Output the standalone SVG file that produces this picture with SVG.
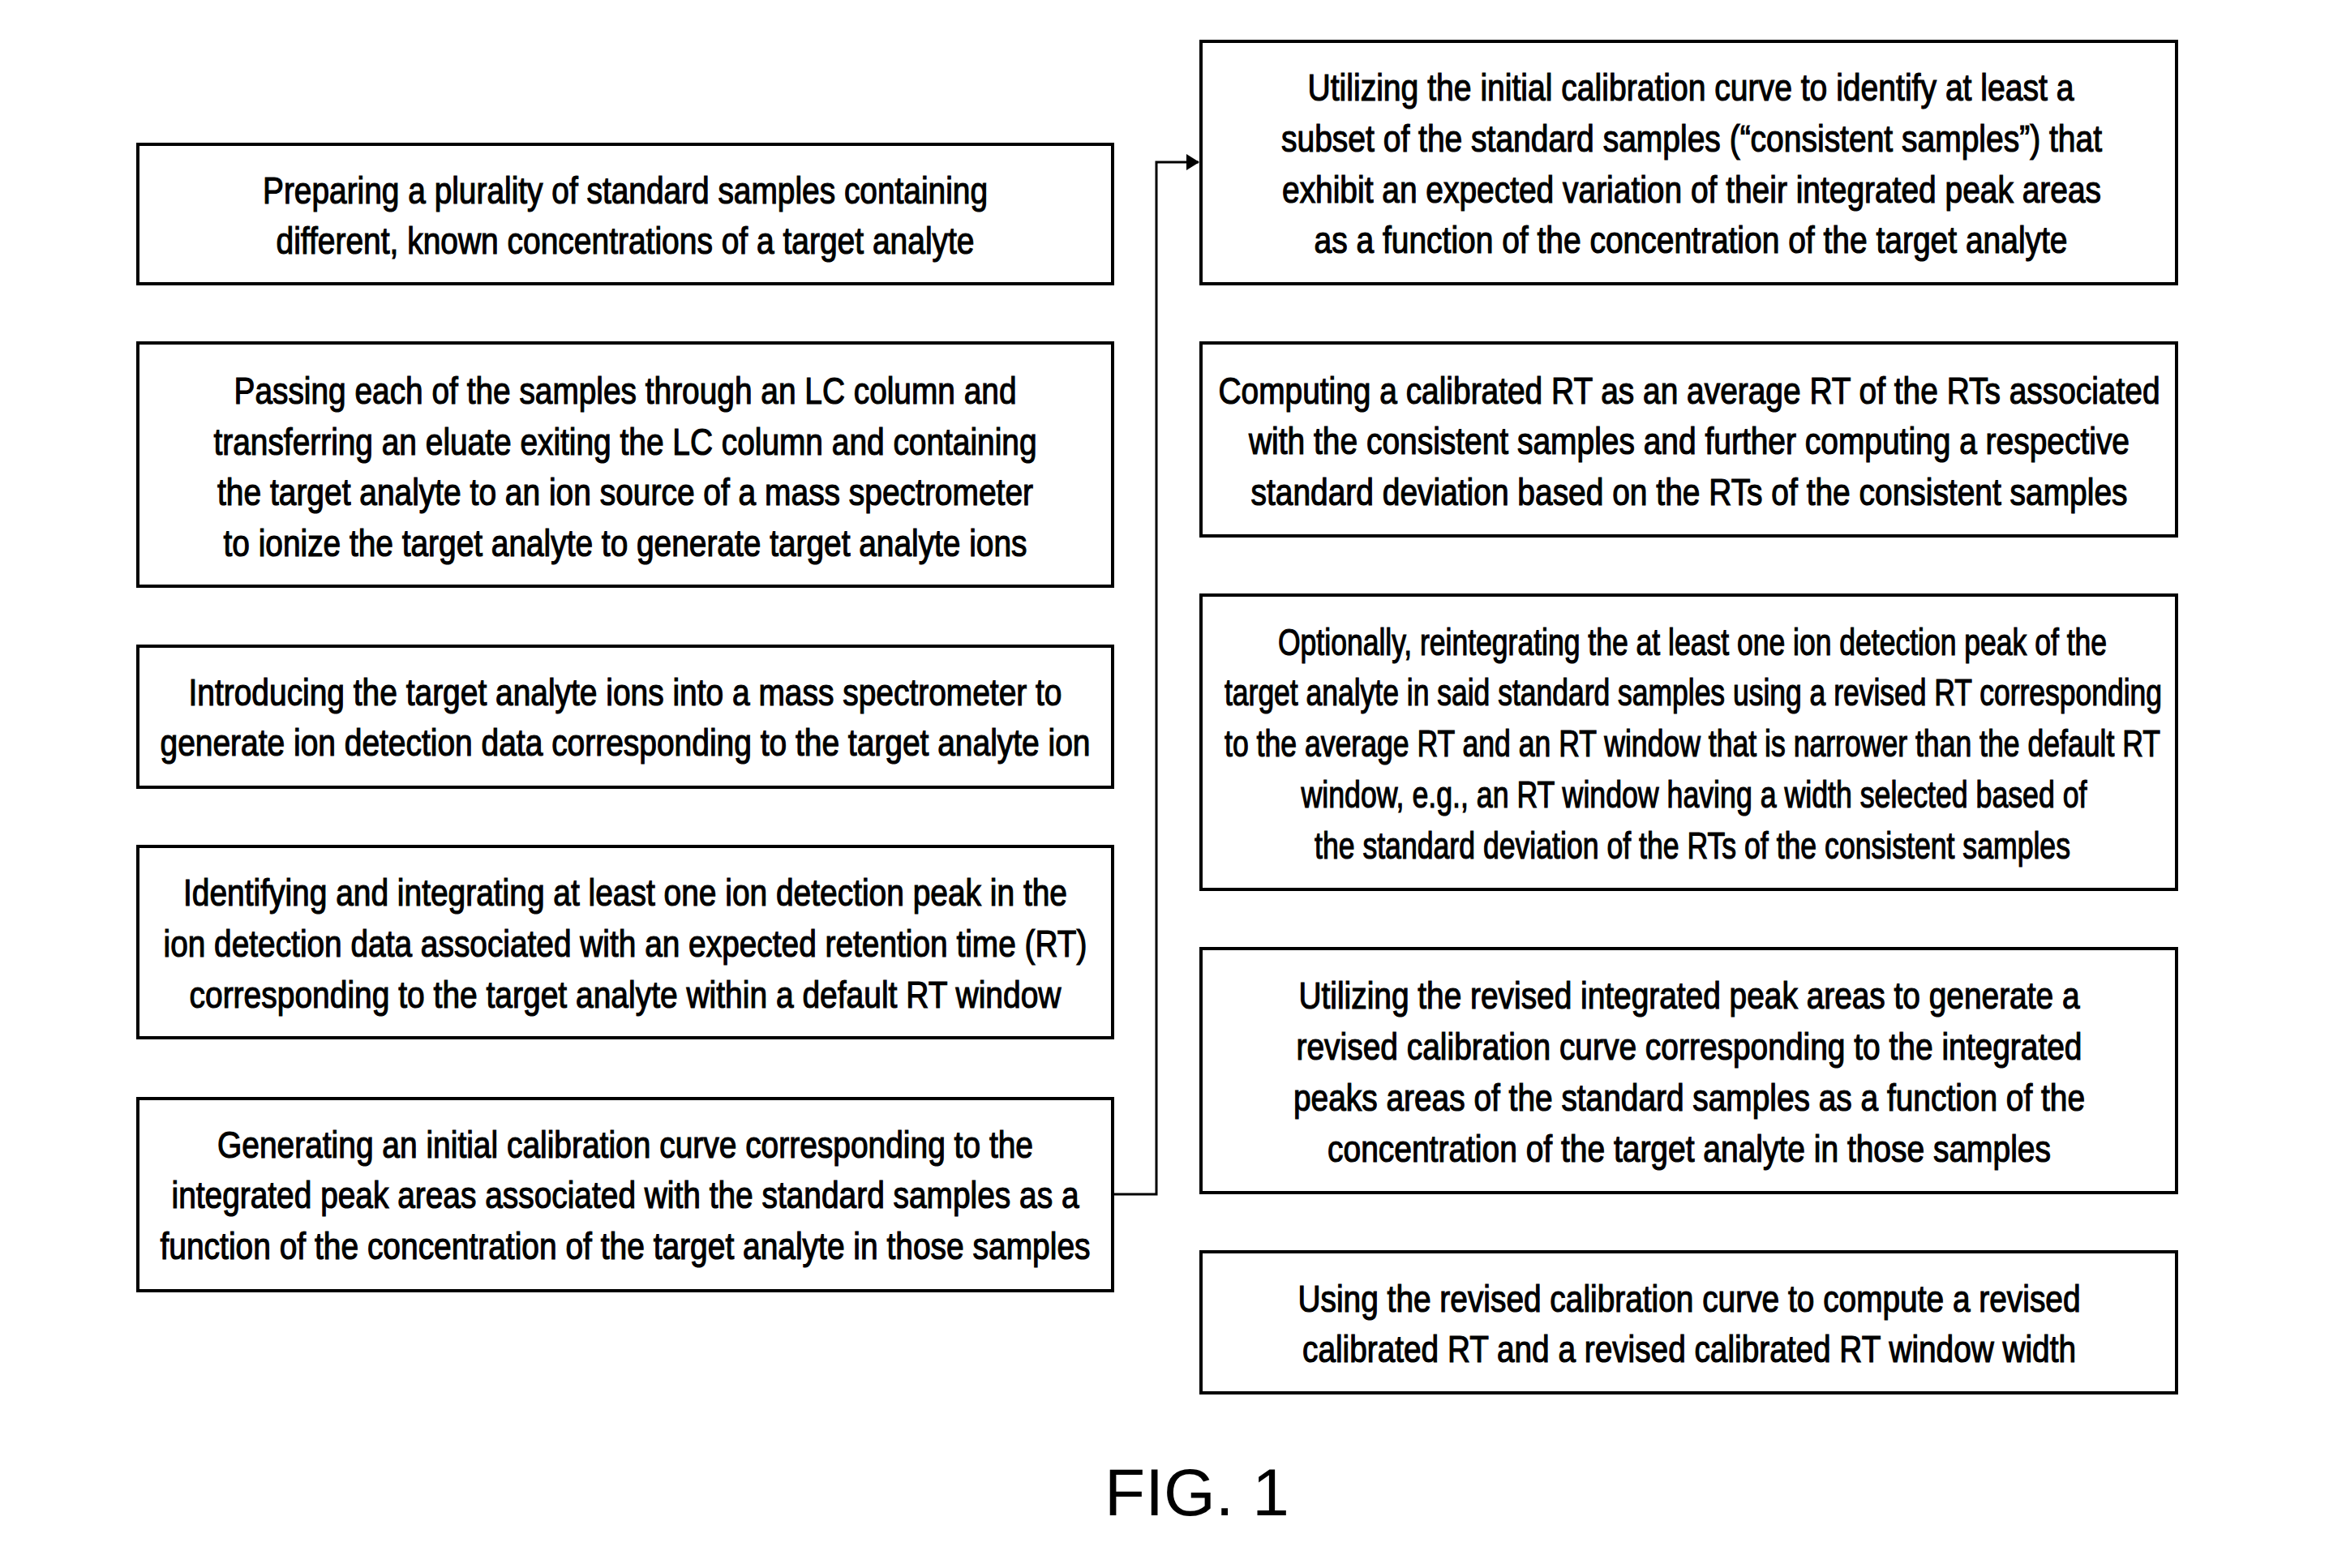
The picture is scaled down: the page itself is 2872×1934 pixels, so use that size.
<svg xmlns="http://www.w3.org/2000/svg" width="2872" height="1934" viewBox="0 0 2872 1934">
<defs>
<style>
.box{fill:#fff;stroke:#000;stroke-width:4}
.t{font-family:"Liberation Sans Narrow","Liberation Sans",Arial,sans-serif;font-size:46px;fill:#000;stroke:#000;stroke-width:1.2;text-anchor:middle}
.conn{fill:none;stroke:#000;stroke-width:3}
.fig{font-family:"Liberation Sans",Arial,sans-serif;font-size:82px;fill:#000;text-anchor:middle}
</style>
<marker id="arr" markerWidth="16" markerHeight="20" refX="15" refY="10" orient="auto" markerUnits="userSpaceOnUse">
<path d="M0,0 L16,10 L0,20 Z" fill="#000"/>
</marker>
</defs>
<rect width="2872" height="1934" fill="#fff"/>

<g id="L1">
<rect class="box" x="170" y="178" width="1202" height="172"/>
<text class="t" x="771" y="251" textLength="894" lengthAdjust="spacingAndGlyphs">Preparing a plurality of standard samples containing</text>
<text class="t" x="771" y="313" textLength="861" lengthAdjust="spacingAndGlyphs">different, known concentrations of a target analyte</text>
</g>

<g id="L2">
<rect class="box" x="170" y="423" width="1202" height="300"/>
<text class="t" x="771" y="498" textLength="965" lengthAdjust="spacingAndGlyphs">Passing each of the samples through an LC column and</text>
<text class="t" x="771" y="561" textLength="1015" lengthAdjust="spacingAndGlyphs">transferring an eluate exiting the LC column and containing</text>
<text class="t" x="771" y="623" textLength="1006" lengthAdjust="spacingAndGlyphs">the target analyte to an ion source of a mass spectrometer</text>
<text class="t" x="771" y="686" textLength="991" lengthAdjust="spacingAndGlyphs">to ionize the target analyte to generate target analyte ions</text>
</g>

<g id="L3">
<rect class="box" x="170" y="797" width="1202" height="174"/>
<text class="t" x="771" y="870" textLength="1077" lengthAdjust="spacingAndGlyphs">Introducing the target analyte ions into a mass spectrometer to</text>
<text class="t" x="771" y="932" textLength="1147" lengthAdjust="spacingAndGlyphs">generate ion detection data corresponding to the target analyte ion</text>
</g>

<g id="L4">
<rect class="box" x="170" y="1044" width="1202" height="236"/>
<text class="t" x="771" y="1117" textLength="1090" lengthAdjust="spacingAndGlyphs">Identifying and integrating at least one ion detection peak in the</text>
<text class="t" x="771" y="1180" textLength="1139" lengthAdjust="spacingAndGlyphs">ion detection data associated with an expected retention time (RT)</text>
<text class="t" x="771" y="1243" textLength="1075" lengthAdjust="spacingAndGlyphs">corresponding to the target analyte within a default RT window</text>
</g>

<g id="L5">
<rect class="box" x="170" y="1355" width="1202" height="237"/>
<text class="t" x="771" y="1428" textLength="1006" lengthAdjust="spacingAndGlyphs">Generating an initial calibration curve corresponding to the</text>
<text class="t" x="771" y="1490" textLength="1119" lengthAdjust="spacingAndGlyphs">integrated peak areas associated with the standard samples as a</text>
<text class="t" x="771" y="1553" textLength="1147" lengthAdjust="spacingAndGlyphs">function of the concentration of the target analyte in those samples</text>
</g>

<g id="R1">
<rect class="box" x="1481" y="51" width="1203" height="299"/>
<text class="t" x="2085" y="124" textLength="945" lengthAdjust="spacingAndGlyphs">Utilizing the initial calibration curve to identify at least a</text>
<text class="t" x="2086" y="187" textLength="1012" lengthAdjust="spacingAndGlyphs">subset of the standard samples (“consistent samples”) that</text>
<text class="t" x="2086" y="250" textLength="1010" lengthAdjust="spacingAndGlyphs">exhibit an expected variation of their integrated peak areas</text>
<text class="t" x="2085" y="312" textLength="929" lengthAdjust="spacingAndGlyphs">as a function of the concentration of the target analyte</text>
</g>

<g id="R2">
<rect class="box" x="1481" y="423" width="1203" height="238"/>
<text class="t" x="2083" y="498" textLength="1161" lengthAdjust="spacingAndGlyphs">Computing a calibrated RT as an average RT of the RTs associated</text>
<text class="t" x="2083" y="560" textLength="1086" lengthAdjust="spacingAndGlyphs">with the consistent samples and further computing a respective</text>
<text class="t" x="2083" y="623" textLength="1081" lengthAdjust="spacingAndGlyphs">standard deviation based on the RTs of the consistent samples</text>
</g>

<g id="R3">
<rect class="box" x="1481" y="734" width="1203" height="363"/>
<text class="t" x="2087" y="808" textLength="1022" lengthAdjust="spacingAndGlyphs">Optionally, reintegrating the at least one ion detection peak of the</text>
<text class="t" x="2088" y="870" textLength="1156" lengthAdjust="spacingAndGlyphs">target analyte in said standard samples using a revised RT corresponding</text>
<text class="t" x="2087" y="933" textLength="1154" lengthAdjust="spacingAndGlyphs">to the average RT and an RT window that is narrower than the default RT</text>
<text class="t" x="2089" y="996" textLength="969" lengthAdjust="spacingAndGlyphs">window, e.g., an RT window having a width selected based of</text>
<text class="t" x="2087" y="1059" textLength="932" lengthAdjust="spacingAndGlyphs">the standard deviation of the RTs of the consistent samples</text>
</g>

<g id="R4">
<rect class="box" x="1481" y="1170" width="1203" height="301"/>
<text class="t" x="2083" y="1244" textLength="963" lengthAdjust="spacingAndGlyphs">Utilizing the revised integrated peak areas to generate a</text>
<text class="t" x="2083" y="1307" textLength="969" lengthAdjust="spacingAndGlyphs">revised calibration curve corresponding to the integrated</text>
<text class="t" x="2083" y="1370" textLength="976" lengthAdjust="spacingAndGlyphs">peaks areas of the standard samples as a function of the</text>
<text class="t" x="2083" y="1433" textLength="892" lengthAdjust="spacingAndGlyphs">concentration of the target analyte in those samples</text>
</g>

<g id="R5">
<rect class="box" x="1481" y="1544" width="1203" height="174"/>
<text class="t" x="2083" y="1618" textLength="965" lengthAdjust="spacingAndGlyphs">Using the revised calibration curve to compute a revised</text>
<text class="t" x="2083" y="1680" textLength="954" lengthAdjust="spacingAndGlyphs">calibrated RT and a revised calibrated RT window width</text>
</g>

<g id="connectors">
<polyline class="conn" points="1372,1473 1426,1473 1426,200 1478,200" marker-end="url(#arr)"/>
</g>

<text class="fig" x="1476" y="1869">FIG. 1</text>
</svg>
